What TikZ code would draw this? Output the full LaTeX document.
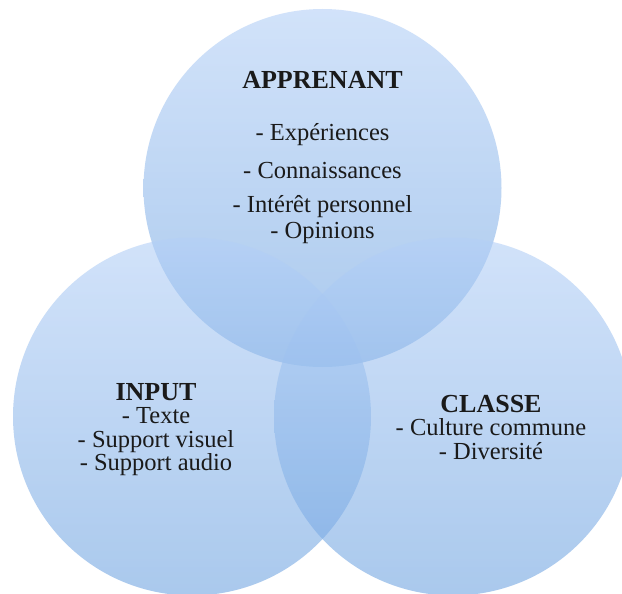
\documentclass[tikz,border=0pt]{standalone}
\usepackage{fontspec}
\setmainfont{Liberation Serif}
\definecolor{venntop}{RGB}{180,208,247}
\definecolor{vennbottom}{RGB}{113,165,225}
\definecolor{texte}{RGB}{26,26,26}
\tikzset{
  venn/.style={circle, minimum size=358pt, inner sep=0pt, draw=none,
    top color=venntop, bottom color=vennbottom, fill opacity=0.6},
  titre/.style={font=\fontsize{26}{28}\selectfont\bfseries, text=texte, anchor=base},
  liste/.style={font=\fontsize{24.5}{24}\selectfont, text=texte, align=center, anchor=base}
}

\begin{document}
\begin{tikzpicture}[x=1pt,y=-1pt]
    \useasboundingbox (0,0) rectangle (622,594);
    \fill[white] (0,0) rectangle (622,594);
    \node(apprenant)[venn] at (322.5,188){};
    \node(input)[venn] at (192,416.5){};
    \node(classe)[venn] at (453,416.5){};
    % base = baseline of the last line
    \node(t1)[titre] at (322.5,89){APPRENANT};
    \node(l1)[liste, font=\fontsize{24.5}{26}\selectfont] at (322.5,238)
        {- Expériences\\[12pt] - Connaissances\\[8pt] - Intérêt personnel\\ - Opinions};
    \node(t2)[titre] at (156,400){INPUT};
    \node(l2)[liste, font=\fontsize{24.5}{23.5}\selectfont] at (156,470.5)
        {- Texte\\ - Support visuel\\ - Support audio};
    \node(t3)[titre] at (491,412){CLASSE};
    \node(l3)[liste, font=\fontsize{24.5}{24.5}\selectfont] at (491,459.5)
        {- Culture commune\\ - Diversité};
\end{tikzpicture}
\end{document}
